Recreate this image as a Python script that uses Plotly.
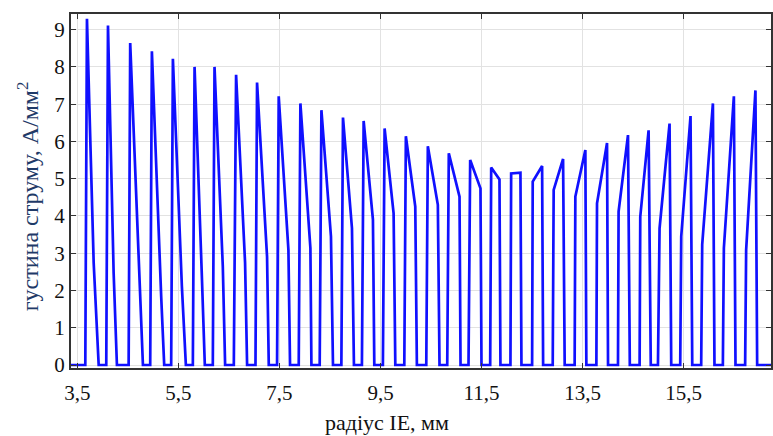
import plotly.graph_objects as go

# Per-pulse readings (x in mm, y in A/mm^2)
pulse_start = [3.656, 4.071, 4.514, 4.941, 5.356, 5.785, 6.180, 6.596, 7.025, 7.452,
               7.881, 8.296, 8.725, 9.132, 9.547, 9.971, 10.406, 10.821, 11.242, 11.671,
               12.072, 12.501, 12.909, 13.343, 13.773, 14.201, 14.629, 14.992, 15.433, 15.848,
               16.277, 16.718]
peak_x = [3.689, 4.105, 4.545, 4.974, 5.390, 5.819, 6.214, 6.641, 7.056, 7.485,
          7.914, 8.330, 8.757, 9.166, 9.581, 10.002, 10.437, 10.852, 11.275, 11.691,
          12.270, 12.699, 13.114, 13.555, 13.984, 14.399, 14.807, 15.222, 15.637, 16.080,
          16.495, 16.922]
peak_y = [9.29, 9.11, 8.64, 8.42, 8.22, 8.00, 8.00, 7.79, 7.58, 7.21,
          7.02, 6.84, 6.64, 6.55, 6.35, 6.14, 5.87, 5.68, 5.50, 5.30,
          5.16, 5.34, 5.53, 5.77, 5.96, 6.17, 6.30, 6.48, 6.68, 7.02,
          7.21, 7.37]
kink_x = [3.822, 4.217, 4.743, 5.158, 5.568, 5.963, 6.378, 6.819, 7.254, 7.677,
          8.112, 8.519, 8.935, 9.350, 9.759, 10.188, 10.635, 11.064, 11.479, 11.855,
          12.086, 12.513, 12.928, 13.357, 13.786, 14.213, 14.642, 15.024, 15.453, 15.868,
          16.297, 16.738]
kink_y = [2.74, 2.47, 1.55, 1.85, 2.11, 2.40, 2.65, 2.74, 2.91, 3.09,
          3.14, 3.45, 3.67, 3.90, 4.07, 4.25, 4.30, 4.52, 4.74, 4.98,
          5.14, 4.92, 4.70, 4.52, 4.34, 4.12, 3.98, 3.67, 3.45, 3.23,
          3.14, 3.09]
pulse_end = [3.921, 4.282, 4.797, 5.218, 5.647, 6.022, 6.424, 6.859, 7.288, 7.709,
             8.132, 8.559, 8.974, 9.377, 9.793, 10.220, 10.668, 11.084, 11.499, 11.874,
             12.290, 12.719, 13.146, 13.575, 14.004, 14.435, 14.850, 15.255, 15.671, 16.111,
             16.527, 16.956]
x_min, x_max = 3.373, 17.23
x_ticks = [3.5, 5.5, 7.5, 9.5, 11.5, 13.5, 15.5]
x_tick_labels = ["3,5", "5,5", "7,5", "9,5", "11,5", "13,5", "15,5"]
y_ticks = [0, 1, 2, 3, 4, 5, 6, 7, 8, 9]

xs, ys = [x_min], [0]
for i in range(len(pulse_start)):
    inner = sorted([(peak_x[i], peak_y[i]), (kink_x[i], kink_y[i])])
    xs.append(pulse_start[i]); ys.append(0)
    for px, py in inner:
        xs.append(px); ys.append(py)
    xs.append(pulse_end[i]); ys.append(0)
xs.append(x_max); ys.append(0)

fig = go.Figure()
fig.add_trace(go.Scatter(x=xs, y=ys, mode="lines",
                         line=dict(color="#1010ff", width=2.7),
                         hoverinfo="skip", showlegend=False))

serif = "'Liberation Serif', 'Times New Roman', 'DejaVu Serif', serif"
tick_font = dict(family=serif, size=21, color="#111111")
fig.update_layout(
    width=773, height=436,
    margin=dict(l=71, r=0, t=14, b=68),
    paper_bgcolor="white", plot_bgcolor="white",
    xaxis=dict(range=[x_min, x_max], tickvals=x_ticks, ticktext=x_tick_labels,
               showgrid=True, gridcolor="#e2e2e2", gridwidth=1.2,
               showline=True, linecolor="#333333", linewidth=2, mirror="ticks",
               ticks="inside", ticklen=5, tickcolor="#333333",
               tickfont=tick_font, zeroline=False, ticklabelstandoff=5),
    yaxis=dict(range=[-0.08, 9.42], tickvals=y_ticks,
               showgrid=True, gridcolor="#e2e2e2", gridwidth=1.2,
               showline=True, linecolor="#333333", linewidth=2, mirror="ticks",
               ticks="inside", ticklen=5, tickcolor="#333333",
               tickfont=tick_font, zeroline=False),
    annotations=[
        dict(text="густина струму, А/мм<sup>2</sup>", xref="paper", yref="paper",
             x=-0.062, y=0.484, xanchor="center", yanchor="middle", textangle=-90,
             showarrow=False,
             font=dict(family=serif, size=24, color="#1f3a68")),
        dict(text="радіус IE, мм", xref="paper", yref="paper",
             x=0.4516, y=-0.155, xanchor="center", yanchor="middle",
             showarrow=False,
             font=dict(family=serif, size=22, color="#111111")),
    ],
)

fig.write_html("out.html", config={"displayModeBar": False},
               post_script="document.body.style.margin='0';document.body.style.overflow='hidden';")
